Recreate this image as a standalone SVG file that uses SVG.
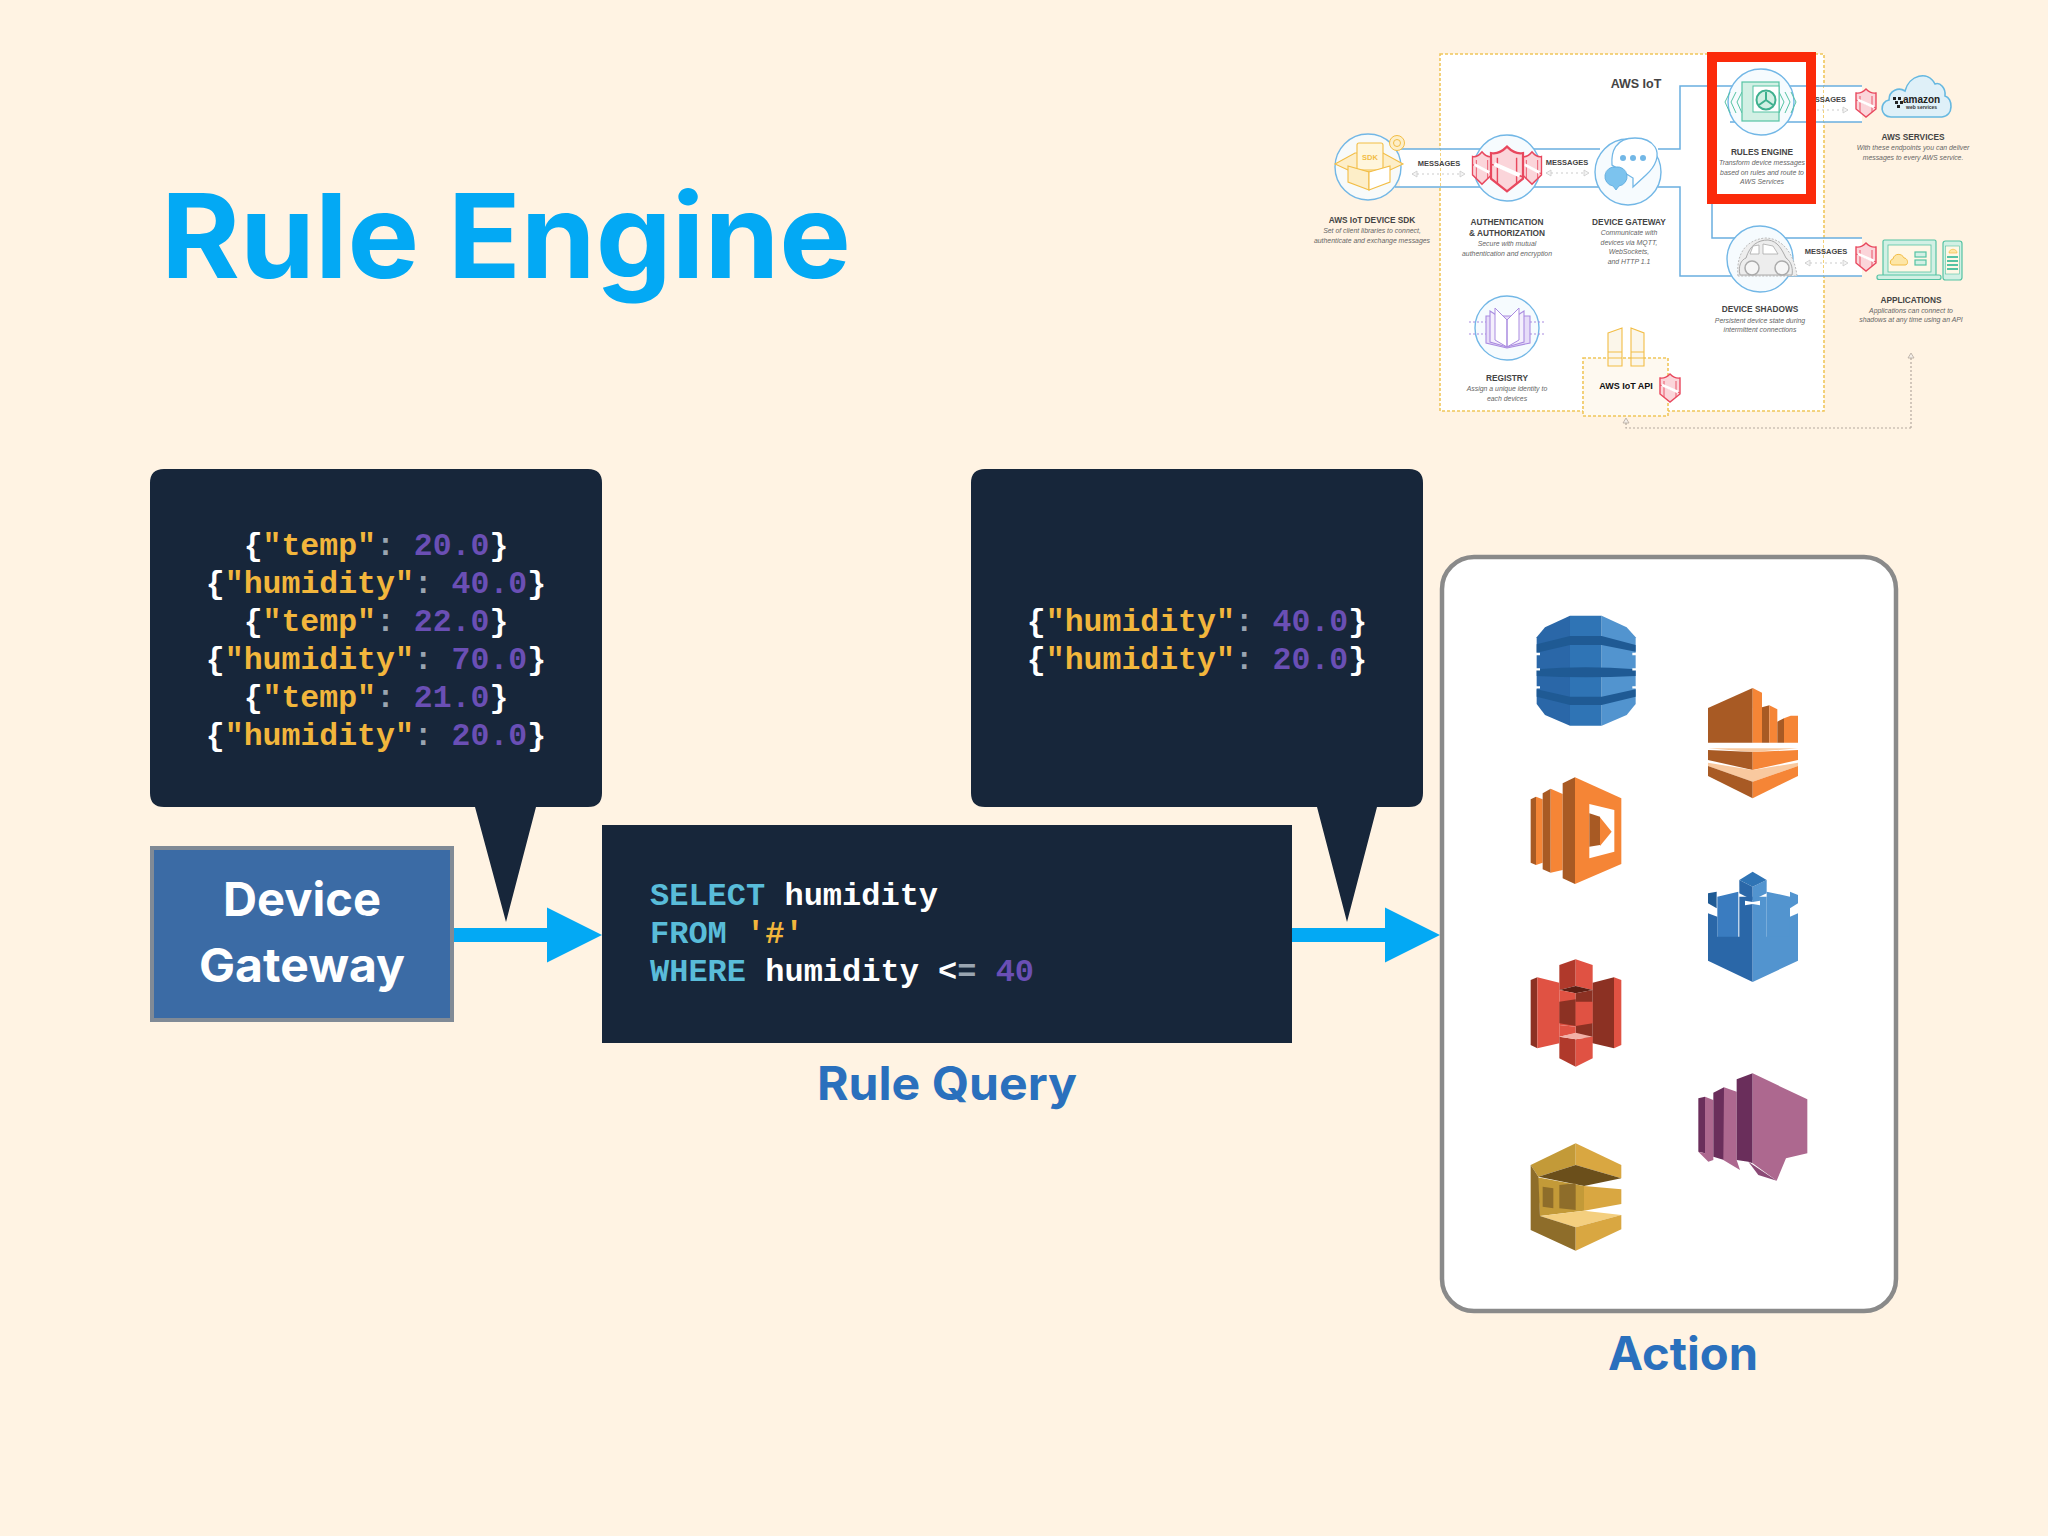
<svg xmlns="http://www.w3.org/2000/svg" xmlns:xlink="http://www.w3.org/1999/xlink" width="2048" height="1536" viewBox="0 0 2048 1536">
<style>
.h{font-family:"Inter","Liberation Sans",sans-serif;font-weight:700}
.code{font-family:"Liberation Mono",monospace;font-weight:700;font-size:32px;fill:#fff}
.cs{font-size:31.5px}
.y{fill:#f2b63c}.g{fill:#9aa5b1}.p{fill:#6a4fb5}.c{fill:#59bcd9}
.ct{text-anchor:middle}
.mh{font-family:"Liberation Sans",sans-serif;font-weight:700;font-size:8.3px;fill:#444;text-anchor:middle}
.md{font-family:"Liberation Sans",sans-serif;font-style:italic;font-size:6.9px;fill:#666;text-anchor:middle}
.dark{fill:#17263a}
.wire{fill:none;stroke:#6aaee0;stroke-width:1.5}
.dots{fill:none;stroke:#ccc;stroke-width:1.2;stroke-dasharray:2 3}
.circ{fill:#f6fbfe;stroke:#72b7e6;stroke-width:1.4}
.ye{fill:#fdeec8;stroke:#f2bd45;stroke-width:1.1}
.pu{fill:#e6dcf8;stroke:#a98be0;stroke-width:1.1}
.gr{fill:#d2f0e4;stroke:#55c3a3;stroke-width:1.2}
.od{fill:#a85a24}.ol{fill:#f58536}.op{fill:#f9c99f}
.bd{fill:#2a67a8}.bm{fill:#2f74b5}.bl{fill:#5294cf}.bk{fill:#1f5a94}
.rd{fill:#8c3123}.rm{fill:#b0392b}.rl{fill:#e05243}
.pd{fill:#6a2e5b}.pl{fill:#ad688f}.pm{fill:#8b4a76}
.gd{fill:#8e6d2a}.gm{fill:#c39a38}.gl{fill:#d9a741}.gp{fill:#f4cf7f}.gk{fill:#6b4f1b}
</style>
<defs>
<marker id="blueHead" markerUnits="userSpaceOnUse" markerWidth="56" markerHeight="56" refX="4" refY="28" orient="auto"><path d="M0,0.5 L55,28 L0,55.5Z" fill="#03a9f4"/></marker>
<marker id="tri" markerUnits="userSpaceOnUse" markerWidth="8" markerHeight="8" refX="6" refY="4" orient="auto-start-reverse"><path d="M1,1 L6,4 L1,7Z" fill="#f4f4f4" stroke="#ccc" stroke-width=".8"/></marker>
<marker id="triB" markerUnits="userSpaceOnUse" markerWidth="8" markerHeight="8" refX="6" refY="4" orient="auto"><path d="M1,1 L6,4 L1,7Z" fill="#f4eee8" stroke="#b5a9a0" stroke-width=".8"/></marker>
<g id="shield"><path d="M-10,-10 Q-5,-9 0,-14 Q5,-9 10,-10 V6 L0,14 L-10,6Z" fill="#fbd5da" stroke="#e8485e" stroke-width="1.4"/><path d="M-10,-3 L10,5 M-6,-7 V9 M6,-7 V9" stroke="#e8485e" stroke-width=".9" fill="none"/><path d="M-8,-3 L8,4" stroke="#fff" stroke-width="2.6"/></g>
</defs>
<rect width="2048" height="1536" fill="#fff3e3"/>

<text id="title" class="h" x="161" y="278" font-size="117" textLength="690" lengthAdjust="spacingAndGlyphs" fill="#03a9f4">Rule Engine</text>

<g id="connectors">
<line x1="454" y1="935" x2="551" y2="935" stroke="#03a9f4" stroke-width="14" marker-end="url(#blueHead)"/>
<line x1="1292" y1="935" x2="1389" y2="935" stroke="#03a9f4" stroke-width="14" marker-end="url(#blueHead)"/>
</g>

<g id="callout-input">
<path class="dark" d="M164,469 H588 Q602,469 602,483 V793 Q602,807 588,807 H536 L506,922 L475,807 H164 Q150,807 150,793 V483 Q150,469 164,469Z"/>
<text class="code cs ct" x="376" y="555">{<tspan class="y">"temp"</tspan><tspan class="g">: </tspan><tspan class="p">20.0</tspan>}</text>
<text class="code cs ct" x="376" y="593">{<tspan class="y">"humidity"</tspan><tspan class="g">: </tspan><tspan class="p">40.0</tspan>}</text>
<text class="code cs ct" x="376" y="631">{<tspan class="y">"temp"</tspan><tspan class="g">: </tspan><tspan class="p">22.0</tspan>}</text>
<text class="code cs ct" x="376" y="669">{<tspan class="y">"humidity"</tspan><tspan class="g">: </tspan><tspan class="p">70.0</tspan>}</text>
<text class="code cs ct" x="376" y="707">{<tspan class="y">"temp"</tspan><tspan class="g">: </tspan><tspan class="p">21.0</tspan>}</text>
<text class="code cs ct" x="376" y="745">{<tspan class="y">"humidity"</tspan><tspan class="g">: </tspan><tspan class="p">20.0</tspan>}</text>
</g>

<g id="device-gateway">
<rect x="152" y="848" width="300" height="172" fill="#3b6ba5" stroke="#808a96" stroke-width="4"/>
<text class="h ct" x="302" y="916" font-size="47" textLength="158" lengthAdjust="spacingAndGlyphs" fill="#fff">Device</text>
<text class="h ct" x="302" y="982" font-size="47" textLength="206" lengthAdjust="spacingAndGlyphs" fill="#fff">Gateway</text>
</g>

<g id="rule-query">
<rect class="dark" x="602" y="825" width="690" height="218"/>
<text class="code" x="650" y="905"><tspan class="c">SELECT</tspan> humidity</text>
<text class="code" x="650" y="943"><tspan class="c">FROM</tspan> <tspan class="y">'#'</tspan></text>
<text class="code" x="650" y="981"><tspan class="c">WHERE</tspan> humidity &lt;<tspan class="g">=</tspan> <tspan class="p">40</tspan></text>
<text class="h ct" x="947" y="1100" font-size="46" textLength="260" lengthAdjust="spacingAndGlyphs" fill="#2a70bd">Rule Query</text>
</g>

<g id="callout-output">
<path class="dark" d="M985,469 H1409 Q1423,469 1423,483 V793 Q1423,807 1409,807 H1377 L1347,922 L1317,807 H985 Q971,807 971,793 V483 Q971,469 985,469Z"/>
<text class="code cs ct" x="1197" y="631">{<tspan class="y">"humidity"</tspan><tspan class="g">: </tspan><tspan class="p">40.0</tspan>}</text>
<text class="code cs ct" x="1197" y="669">{<tspan class="y">"humidity"</tspan><tspan class="g">: </tspan><tspan class="p">20.0</tspan>}</text>
</g>

<g id="action">
<rect x="1442" y="557" width="454" height="754" rx="32" fill="#fff" stroke="#8a8a8a" stroke-width="4.5"/>
<text class="h ct" x="1683" y="1370" font-size="46" textLength="150" lengthAdjust="spacingAndGlyphs" fill="#2a70bd">Action</text>
<g id="icon-dynamodb" transform="translate(1430,550) scale(.33333)">
<path class="bd" d="M320,262 L345,232 L420,197 V527 L345,495 L320,462Z"/>
<path class="bm" d="M420,197 H515 V527 H420Z"/>
<path class="bl" d="M515,197 L590,232 L617,262 V462 L590,495 L515,527Z"/>
<path class="bk" d="M320,283 L420,258 H515 L617,285 V305 L515,285 H420 L320,308Z"/>
<path class="bk" d="M320,358 Q465,345 617,358 V378 Q465,385 320,378Z"/>
<path class="bk" d="M320,418 L420,440 H515 L617,418 V440 L515,465 H420 L320,440Z"/>
<path d="M316,312 H330 M316,358 H330 M316,412 H330 M607,312 H621 M607,358 H621 M607,412 H621" stroke="#fff" stroke-width="7"/>
</g>
<g id="icon-analytics" transform="translate(1430,550) scale(.33333)">
<path class="od" d="M834,474 L968,414 V578 H834Z"/><path class="ol" d="M968,414 L996,428 V578 H968Z"/>
<path class="od" d="M996,472 L1018,466 V578 H996Z"/><path class="ol" d="M1018,466 L1042,478 V578 H1018Z"/>
<path class="od" d="M1042,515 L1062,505 V578 H1042Z"/><path class="ol" d="M1062,505 L1082,497 L1104,497 V578 H1062Z"/>
<path class="op" d="M834,595 H1104 L968,606Z"/>
<path class="od" d="M834,600 L968,606 V660 L834,630Z"/><path class="ol" d="M968,606 L1104,600 V630 L968,660Z"/>
<path class="op" d="M834,638 L968,660 L1104,638 V648 L968,695 L834,648Z"/>
<path class="od" d="M834,648 L968,695 V745 L834,678Z"/><path class="ol" d="M968,695 L1104,648 V678 L968,745Z"/>
</g>
<g id="icon-lambda" transform="translate(1430,550) scale(.33333)">
<path class="od" d="M302,748 L318,740 V945 L302,938Z"/><path class="ol" d="M318,740 L338,748 V938 L318,945Z"/>
<path class="od" d="M338,730 L362,716 V968 L338,958Z"/><path class="ol" d="M362,716 L398,732 V960 L362,968Z"/>
<path class="od" d="M398,700 L435,682 V1002 L398,985Z"/><path class="ol" d="M435,682 L574,745 V942 L435,1002Z"/>
<path fill="#fff" d="M478,762 L553,780 V905 L478,925Z"/>
<path class="od" d="M478,790 L510,800 V885 L478,890Z"/><path class="ol" d="M510,802 L545,845 L510,888Z"/>
</g>
<g id="icon-guardduty" transform="translate(1430,550) scale(.33333)">
<path class="bk" d="M834,1030 L860,1025 V1075 L834,1060Z"/><path class="bl" d="M1080,1025 L1104,1035 V1060 L1080,1075Z"/>
<path fill="#3a7cc0" d="M862,1040 L925,1025 V1165 H862Z"/><path class="bl" d="M1010,1025 L1080,1040 V1165 H1010Z"/>
<path class="bd" d="M834,1090 L862,1100 V1160 H928 V1040 H968 V1296 L834,1232Z"/>
<path class="bl" d="M968,1040 H1010 V1160 H1080 V1100 L1104,1090 V1232 L968,1296Z"/>
<path class="bd" d="M928,990 L968,1010 V1050 L928,1030Z"/><path class="bl" d="M968,1010 L1010,990 V1030 L968,1050Z"/>
<path class="bm" d="M928,990 L968,965 L1010,990 L968,1010Z"/>
<path fill="#fff" d="M945,1052 L968,1056 L990,1052 V1066 L968,1062 L945,1066Z"/>
</g>
<g id="icon-s3" transform="translate(1430,930) scale(.33333)">
<path class="rm" d="M388,105 L437,88 V168 L388,180Z"/><path class="rl" d="M437,88 L488,105 V180 L437,168Z"/>
<path class="rd" d="M302,150 L322,142 V355 L302,345Z"/><path class="rl" d="M322,142 L388,158 V340 L322,355Z"/>
<path class="rd" d="M488,158 L552,142 V355 L488,340Z"/><path class="rl" d="M552,142 L574,150 V345 L552,355Z"/>
<path fill="#5e1f14" d="M388,180 L437,168 L488,180 L437,190Z"/>
<path class="rl" d="M388,180 L437,190 V290 L388,285Z"/><path class="rd" d="M437,190 L488,180 V340 L437,310Z"/>
<path class="rd" d="M388,215 L437,208 V288 L388,280Z"/><path class="rl" d="M437,215 H488 V280 L437,288Z"/>
<path class="rl" d="M388,285 L437,290 V310 L388,320Z"/>
<path class="rm" d="M388,320 L437,328 V410 L388,385Z"/><path class="rl" d="M437,328 L488,320 V385 L437,410Z"/>
<path fill="#f2b0a6" d="M388,320 L437,308 L488,320 L437,328Z"/>
</g>
<g id="icon-kinesis" transform="translate(1430,930) scale(.33333)">
<path class="pd" d="M805,505 L825,500 V670 L805,665Z"/><path class="pl" d="M825,500 L850,510 V690 L835,695 L805,665 L825,670Z"/>
<path class="pd" d="M850,488 L882,472 V690 L850,680Z"/><path class="pl" d="M882,472 L920,485 V690 L930,720 L880,690Z"/>
<path class="pd" d="M920,448 L968,430 V700 L955,695 L920,690Z"/>
<path class="pl" d="M968,430 L1132,508 V670 L1068,685 L1040,752 L968,700Z"/>
<path class="pm" d="M955,695 L1040,752 L985,735Z"/>
</g>
<g id="icon-sqs" transform="translate(1430,930) scale(.33333)">
<path class="gm" d="M302,705 L437,640 V705 L325,740Z"/><path class="gl" d="M437,640 L574,705 V745 L437,705Z"/>
<path class="gk" d="M325,740 L437,705 L574,745 L462,768Z"/>
<path class="gm" d="M322,742 L462,768 V842 L330,858Z"/>
<path class="gd" d="M338,770 L370,775 V835 L338,830Z M388,765 L437,760 V840 L388,835Z"/>
<path class="gl" d="M462,768 L574,778 V822 L462,842Z"/>
<path class="gp" d="M330,858 L462,842 L574,855 L437,892Z"/>
<path class="gd" d="M302,705 L325,740 L330,858 L437,892 V962 L302,900Z"/>
<path class="gl" d="M437,892 L574,855 V898 L437,962Z"/>
</g>
</g>

<g id="mini-aws">
<rect x="1440" y="54" width="384" height="357" fill="#fff" stroke="#f0c65a" stroke-width="1.6" stroke-dasharray="3 2"/>
<path d="M1400,149 H1440 V187 H1400Z M1824,86 H1862 V122 H1824Z M1824,238 H1862 V276 H1824Z" fill="#fff"/>
<text x="1636" y="88" font-family="Liberation Sans,sans-serif" font-weight="700" font-size="12.5" fill="#444" text-anchor="middle">AWS IoT</text>
<g id="mini-wires">
<path class="wire" d="M1395,149 H1600 M1395,187 H1600 M1658,149 H1680 V86 H1862 M1658,187 H1680 V276 H1862 M1712,203 V238 H1862 M1730,122 H1862"/>
<path class="dots" marker-start="url(#tri)" marker-end="url(#tri)" d="M1412,174 H1465"/>
<path class="dots" marker-start="url(#tri)" marker-end="url(#tri)" d="M1546,173 H1589"/>
<path class="dots" marker-end="url(#tri)" d="M1807,110 H1848"/>
<path class="dots" marker-start="url(#tri)" marker-end="url(#tri)" d="M1805,263 H1848"/>
<path fill="none" stroke="#b5a9a0" stroke-width="1.2" stroke-dasharray="2 2" marker-end="url(#triB)" d="M1911,428 H1626 V418"/>
<path fill="none" stroke="#b5a9a0" stroke-width="1.2" stroke-dasharray="2 2" marker-end="url(#triB)" d="M1911,428 V353"/>
</g>
<text class="mh" x="1439" y="166" style="font-size:7.5px">MESSAGES</text>
<text class="mh" x="1567" y="165" style="font-size:7.5px">MESSAGES</text>
<text class="mh" x="1846" y="102" style="font-size:7.5px;text-anchor:end">SSAGES</text>
<text class="mh" x="1826" y="254" style="font-size:7.5px">MESSAGES</text>

<g id="mini-sdk">
<circle class="circ" cx="1368" cy="167" r="33" fill-opacity=".8"/>
<path class="ye" d="M1335,164 L1355,153 H1383 L1403,164 L1390,170 L1369,172 L1348,170Z"/>
<rect class="ye" x="1357" y="143" width="26" height="27" rx="2" style="fill:#fff6dc"/>
<text x="1370" y="160" font-family="Liberation Sans,sans-serif" font-weight="700" font-size="7.5" fill="#f2bd45" text-anchor="middle">SDK</text>
<path class="ye" d="M1348,166 L1369,172 V190 L1348,182Z"/><path class="ye" d="M1369,172 L1390,166 V182 L1369,190Z" style="fill:#fff"/>
<circle cx="1397" cy="143" r="7.5" fill="#fdeec8" stroke="#f2bd45"/><circle cx="1397" cy="143" r="3.5" fill="none" stroke="#f2bd45"/>
<text class="mh" x="1372" y="223">AWS IoT DEVICE SDK</text>
<text class="md" x="1372" y="233">Set of client libraries to connect,</text>
<text class="md" x="1372" y="243">authenticate and exchange messages</text>
</g>

<g id="mini-auth">
<circle class="circ" cx="1507" cy="168" r="33"/>
<use href="#shield" transform="translate(1482,168) scale(.95,1.15)"/>
<use href="#shield" transform="translate(1532,168) scale(.95,1.15)"/>
<use href="#shield" transform="translate(1507,169) scale(1.6)"/>
<text class="mh" x="1507" y="225">AUTHENTICATION</text>
<text class="mh" x="1507" y="236">&amp; AUTHORIZATION</text>
<text class="md" x="1507" y="246">Secure with mutual</text>
<text class="md" x="1507" y="256">authentication and encryption</text>
</g>

<g id="mini-gateway">
<circle class="circ" cx="1628" cy="172" r="33"/>
<path d="M1635,138 C1615,138 1611,152 1612,165 L1633,178 V187 L1646,175 C1656,166 1660,155 1655,147 C1651,141 1644,138 1635,138Z" fill="#fff" stroke="#72b7e6" stroke-width="1.3"/>
<circle cx="1623" cy="158" r="3" fill="#72b7e6"/><circle cx="1633" cy="158" r="3" fill="#72b7e6"/><circle cx="1643" cy="158" r="3" fill="#72b7e6"/>
<path d="M1616,167 A9.5,9.5 0 1 1 1619,186 L1616,190 L1613,186 A9.5,9.5 0 0 1 1616,167Z" fill="#7cc3ee" stroke="#5aa8dc" stroke-width=".8"/>
<text class="mh" x="1629" y="225">DEVICE GATEWAY</text>
<text class="md" x="1629" y="235">Communicate with</text>
<text class="md" x="1629" y="245">devices via MQTT,</text>
<text class="md" x="1629" y="254">WebSockets,</text>
<text class="md" x="1629" y="264">and HTTP 1.1</text>
</g>

<g id="mini-registry">
<circle class="circ" cx="1507" cy="328" r="32"/>
<path d="M1469,322 H1487 M1469,334 H1487 M1530,322 H1545 M1530,334 H1545" stroke="#a98be0" stroke-dasharray="2 2" fill="none"/>
<path class="pu" d="M1486,316 H1530 V343 L1507,348 L1486,343Z"/>
<path class="pu" d="M1490,311 L1507,322 L1524,311 V342 L1507,347 L1490,342Z" style="fill:#f4effc"/>
<path d="M1495,308 L1507,320 V347 L1495,340Z M1519,308 L1507,320 V347 L1519,340Z" fill="#fff" stroke="#a98be0"/>
<text class="mh" x="1507" y="381">REGISTRY</text>
<text class="md" x="1507" y="391">Assign a unique identity to</text>
<text class="md" x="1507" y="401">each devices</text>
</g>

<g id="mini-api">
<rect x="1583" y="358" width="85" height="58" fill="#fef9f0" stroke="#f0c65a" stroke-width="1.6" stroke-dasharray="3 2"/>
<path class="ye" d="M1608,333 L1622,328 V366 H1608Z M1631,328 L1644,333 V366 H1631Z" style="fill:#fbf6ea"/>
<path d="M1608,352 H1622 M1608,358 H1622 M1631,352 H1644 M1631,358 H1644" stroke="#f2bd45"/>
<text x="1626" y="389" font-family="Liberation Sans,sans-serif" font-weight="700" font-size="9" fill="#111" text-anchor="middle">AWS IoT API</text>
<use href="#shield" transform="translate(1670,388)"/>
</g>

<g id="mini-rules">
<circle class="circ" cx="1761" cy="102" r="33"/>
<path d="M1742,92 L1737,102 L1742,113 M1736,92 L1731,102 L1736,113 M1730,92 L1725,102 L1730,113 M1779,92 L1784,102 L1779,113 M1785,92 L1790,102 L1785,113 M1791,92 L1796,102 L1791,113" fill="none" stroke="#55c3a3" stroke-width="1"/>
<rect class="gr" x="1742" y="82" width="37" height="39"/>
<rect x="1753" y="86" width="26" height="26" fill="#fff" stroke="#55c3a3"/>
<circle cx="1766" cy="100" r="9.5" fill="#d2f0e4" stroke="#3fb08f" stroke-width="2"/>
<path d="M1766,100 L1766,92 M1766,100 L1759,105 M1766,100 L1773,105" stroke="#3fb08f" stroke-width="2"/>
<text class="mh" x="1762" y="155">RULES ENGINE</text>
<text class="md" x="1762" y="165">Transform device messages</text>
<text class="md" x="1762" y="175">based on rules and route to</text>
<text class="md" x="1762" y="184">AWS Services</text>
</g>

<g id="mini-shadows">
<circle class="circ" cx="1760" cy="259" r="33"/>
<path d="M1738,276 C1736,255 1745,240 1765,238 C1785,238 1795,258 1797,276Z" fill="#eee" stroke="#bbb" stroke-dasharray="2 1.5"/>
<path d="M1740,275 C1738,266 1741,260 1746,258 C1750,245 1758,240 1768,240 C1778,241 1782,250 1786,258 C1792,262 1793,270 1792,275Z" fill="#ededed" stroke="#aaa"/>
<path d="M1753,246 L1750,254 H1759 V245Z M1763,244 V254 H1778 L1773,246Z" fill="#fff" stroke="#aaa" stroke-width=".8"/>
<circle cx="1752" cy="268" r="7" fill="#f6f6f6" stroke="#aaa" stroke-width="1.5"/><circle cx="1782" cy="268" r="7" fill="#f6f6f6" stroke="#aaa" stroke-width="1.5"/>
<text class="mh" x="1760" y="312">DEVICE SHADOWS</text>
<text class="md" x="1760" y="323">Persistent device state during</text>
<text class="md" x="1760" y="332">intermittent connections</text>
</g>

<rect id="mini-highlight" x="1712" y="57" width="99" height="142" fill="none" stroke="#fb2a0a" stroke-width="10"/>

<g id="mini-services">
<use href="#shield" transform="translate(1866,103)"/>
<path d="M1891,117 C1880,117 1879,102 1889,100 C1889,90 1899,87 1905,91 C1909,75 1928,70 1935,84 C1940,82 1946,88 1945,96 C1953,98 1954,116 1942,117Z" fill="#dff0f8" stroke="#66b8e0" stroke-width="1.6"/>
<path d="M1893,97 h3 v3 h-3z M1898,97 h3 v3 h-3z M1895,101 h3 v3 h-3z M1900,101 h3 v3 h-3z M1897,105 h3 v3 h-3z" fill="#222"/>
<text x="1903" y="103" font-family="Liberation Sans,sans-serif" font-weight="700" font-size="10" fill="#222">amazon</text>
<text x="1906" y="109" font-family="Liberation Sans,sans-serif" font-weight="700" font-size="5" fill="#333">web services</text>
<text class="mh" x="1913" y="140">AWS SERVICES</text>
<text class="md" x="1913" y="150">With these endpoints you can deliver</text>
<text class="md" x="1913" y="160">messages to every AWS service.</text>
</g>

<g id="mini-apps">
<use href="#shield" transform="translate(1866,257)"/>
<rect class="gr" x="1883" y="240" width="53" height="36" rx="1.5"/>
<rect x="1888" y="245" width="43" height="27" fill="#fff7e6" stroke="#55c3a3" stroke-width=".8"/>
<path d="M1893,265 C1889,265 1890,259 1893,259 C1894,253 1902,253 1904,258 C1908,258 1909,265 1905,265Z" fill="#fde6a6" stroke="#f2bd45"/>
<rect class="gr" x="1915" y="252" width="11" height="5"/><rect class="gr" x="1915" y="260" width="11" height="5"/>
<rect class="gr" x="1877" y="275" width="64" height="4.5" rx="2"/>
<rect class="gr" x="1943" y="241" width="19" height="39" rx="2.5"/>
<rect x="1945.5" y="246" width="14" height="28" fill="#fff7e6" stroke="#55c3a3" stroke-width=".6"/>
<path d="M1949,253 C1949,248 1957,248 1957,253Z" fill="#fde6a6" stroke="#f2bd45" stroke-width=".7"/>
<path d="M1947,257 H1958 M1947,261 H1958 M1947,265 H1958 M1947,269 H1958" stroke="#55c3a3" stroke-width="2"/>
<text class="mh" x="1911" y="303">APPLICATIONS</text>
<text class="md" x="1911" y="313">Applications can connect to</text>
<text class="md" x="1911" y="322">shadows at any time using an API</text>
</g>
</g>
</svg>
